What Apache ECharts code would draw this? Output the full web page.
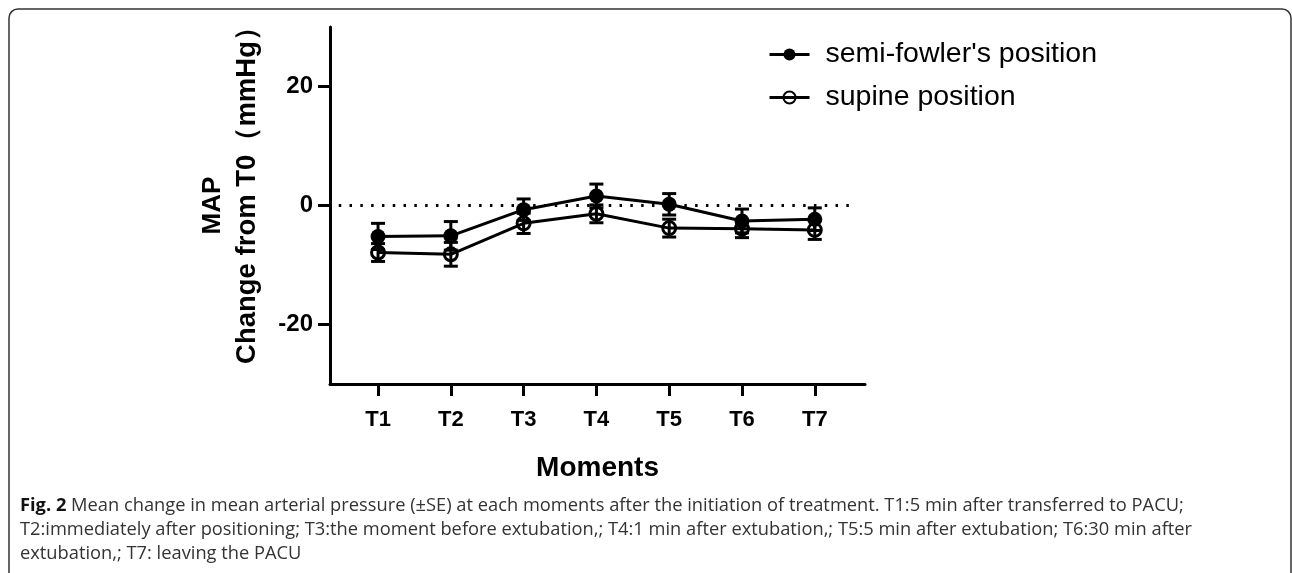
<!DOCTYPE html>
<html lang="en">
<head>
    <meta charset="UTF-8">
    <title>MAP change from T0</title>
    <script type="text/javascript" src="https://cdn.jsdelivr.net/npm/echarts@6/dist/echarts.min.js"></script>
    <style>
        html, body { margin: 0; padding: 0; background: #fff; }
        #container { width: 1292px; height: 573px; }
    </style>
</head>
<body>
<div id="container"></div>
<script type="text/javascript">
    // moments on x
    var moments = ['T1', 'T2', 'T3', 'T4', 'T5', 'T6', 'T7'];
    var momentX = [1, 2, 3, 4, 5, 6, 7];
    // mean change (mmHg)
    var fowlerMean = [-5.2, -5.1, -0.7, 1.6, 0.2, -2.6, -2.3];
    var fowlerSE = [2.2, 2.4, 1.8, 2.0, 1.8, 2.0, 1.9];
    var supineMean = [-7.9, -8.2, -3.0, -1.4, -3.8, -3.9, -4.1];
    var supineSE = [1.5, 2.0, 1.7, 1.5, 1.5, 1.5, 1.6];
    // y ticks
    var yTicks = [-20, 0, 20];
    // dotted zero line span
    var refLineX = [0.46, 7.52];

    var captionLines = [
        'Mean change in mean arterial pressure (\u00b1SE) at each moments after the initiation of treatment. T1:5 min after transferred to PACU;',
        'T2:immediately after positioning; T3:the moment before extubation,; T4:1 min after extubation,; T5:5 min after extubation; T6:30 min after',
        'extubation,; T7: leaving the PACU'
    ];

    var FONT = 'Liberation Sans, Arial, sans-serif';
    var CAP_FONT = 'Open Sans';
    var CAP_SIZE = 18.3;

    function pts(ys) {
        var out = [];
        for (var i = 0; i < ys.length; i++) out.push([momentX[i], ys[i]]);
        return out;
    }
    function bars(ys, se) {
        var out = [];
        for (var i = 0; i < ys.length; i++) out.push([momentX[i], ys[i] - se[i], ys[i] + se[i]]);
        return out;
    }
    function errRender(params, api) {
        var x = api.value(0);
        var lo = api.coord([x, api.value(1)]);
        var hi = api.coord([x, api.value(2)]);
        var w = 7;
        var st = { stroke: '#000', lineWidth: 3 };
        return {
            type: 'group',
            children: [
                { type: 'line', shape: { x1: lo[0], y1: lo[1], x2: hi[0], y2: hi[1] }, style: st },
                { type: 'line', shape: { x1: lo[0] - w, y1: lo[1], x2: lo[0] + w, y2: lo[1] }, style: st },
                { type: 'line', shape: { x1: hi[0] - w, y1: hi[1], x2: hi[0] + w, y2: hi[1] }, style: st }
            ]
        };
    }

    var dom = document.getElementById('container');
    var myChart = echarts.init(dom, null, { renderer: 'canvas' });

    var graphics = [
        {
            type: 'rect',
            shape: { x: 9, y: 9, width: 1282, height: 620, r: 9 },
            style: { fill: 'none', stroke: '#333', lineWidth: 1.5 },
            silent: true
        },
        {
            type: 'text', left: 20, top: 497,
            style: {
                text: '{b|Fig. 2} ' + captionLines[0],
                rich: { b: { fontWeight: 'bold', fontSize: CAP_SIZE, fontFamily: CAP_FONT, fill: '#111' } },
                fontSize: CAP_SIZE, fontFamily: CAP_FONT, fill: '#333'
            }
        },
        {
            type: 'text', left: 20, top: 521,
            style: { text: captionLines[1], fontSize: CAP_SIZE, fontFamily: CAP_FONT, fill: '#333' }
        },
        {
            type: 'text', left: 20, top: 545,
            style: { text: captionLines[2], fontSize: CAP_SIZE, fontFamily: CAP_FONT, fill: '#333' }
        }
    ];

    var option = {
        animation: false,
        backgroundColor: '#fff',
        textStyle: { fontFamily: FONT },
        graphic: graphics,
        grid: { left: 330, right: 427, top: 27, bottom: 189 },
        legend: {
            data: ["semi-fowler's position", 'supine position'],
            orient: 'vertical',
            left: 763,
            top: 35,
            itemWidth: 40,
            itemHeight: 15,
            itemGap: 14,
            lineStyle: { width: 3 },
            textStyle: { fontSize: 28.5, color: '#000', fontFamily: FONT, padding: [0, 0, 0, 11] }
        },
        xAxis: {
            type: 'value',
            min: 0.34,
            max: 7.69,
            name: 'Moments',
            nameLocation: 'middle',
            nameGap: 70,
            nameTextStyle: { fontSize: 28, fontWeight: 'bold', color: '#000', fontFamily: FONT },
            axisLine: { onZero: false, lineStyle: { color: '#000', width: 3 } },
            axisTick: { customValues: momentX, length: 12, lineStyle: { color: '#000', width: 3 } },
            axisLabel: {
                customValues: momentX,
                formatter: function (v) { return moments[Math.round(v) - 1]; },
                fontSize: 22, fontWeight: 'bold', color: '#000', margin: 25
            },
            splitLine: { show: false }
        },
        yAxis: {
            type: 'value',
            min: -30,
            max: 30,
            name: '{a|MAP}\n{b|Change from T0\uff08mmHg\uff09}',
            nameLocation: 'middle',
            nameRotate: 90,
            nameGap: 66,
            nameTextStyle: {
                color: '#000',
                fontFamily: FONT,
                rich: {
                    a: { fontSize: 26, fontWeight: 'bold', color: '#000', fontFamily: FONT, lineHeight: 34 },
                    b: { fontSize: 27.5, fontWeight: 'bold', color: '#000', fontFamily: FONT, lineHeight: 34, padding: [0, 0, 0, 34] }
                }
            },
            axisLine: { onZero: false, lineStyle: { color: '#000', width: 3 } },
            axisTick: { customValues: yTicks, length: 12, lineStyle: { color: '#000', width: 3 } },
            axisLabel: { customValues: yTicks, fontSize: 24, fontWeight: 'bold', color: '#000', margin: 17 },
            splitLine: { show: false }
        },
        series: [
            {
                name: 'zero',
                type: 'line',
                data: [[refLineX[0], 0], [refLineX[1], 0]],
                symbol: 'none',
                lineStyle: { color: '#000', width: 3, type: [2.5, 8.3] },
                silent: true,
                z: 1
            },
            {
                name: "semi-fowler's position",
                type: 'line',
                data: pts(fowlerMean),
                symbol: 'circle',
                symbolSize: 15,
                itemStyle: { color: '#000' },
                lineStyle: { color: '#000', width: 3 },
                z: 3
            },
            {
                name: 'supine position',
                type: 'line',
                data: pts(supineMean),
                symbol: 'circle',
                symbolSize: 13,
                itemStyle: { color: 'rgba(255,255,255,0)', borderColor: '#000', borderWidth: 3 },
                lineStyle: { color: '#000', width: 3 },
                z: 3
            },
            {
                type: 'custom',
                data: bars(fowlerMean, fowlerSE),
                renderItem: errRender,
                silent: true,
                z: 4
            },
            {
                type: 'custom',
                data: bars(supineMean, supineSE),
                renderItem: errRender,
                silent: true,
                z: 4
            }
        ]
    };

    myChart.setOption(option);
    window.addEventListener('resize', myChart.resize);
</script>
</body>
</html>
